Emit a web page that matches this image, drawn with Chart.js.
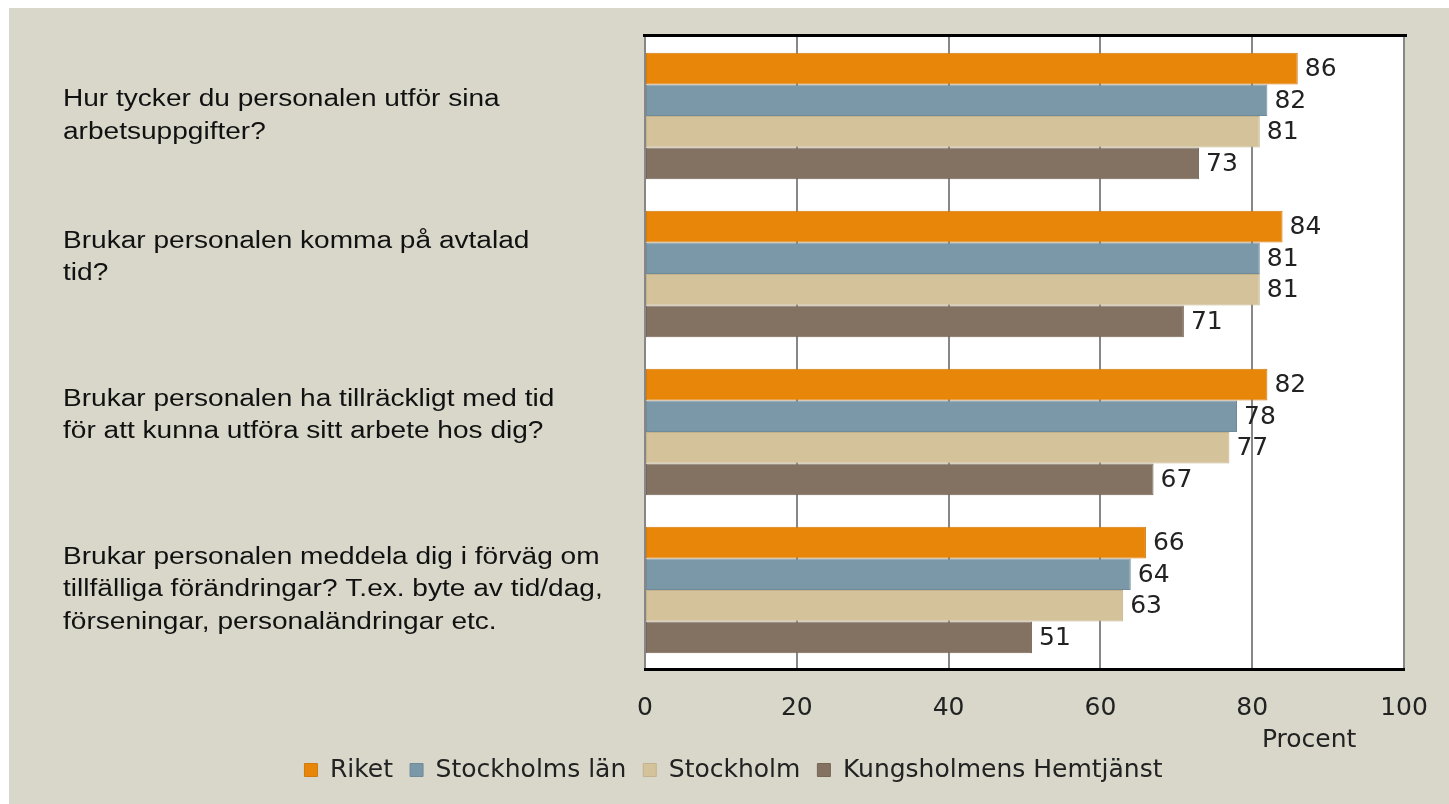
<!DOCTYPE html>
<html>
<head>
<meta charset="utf-8">
<script src="https://cdn.jsdelivr.net/npm/chart.js@4/dist/chart.umd.min.js"></script>
<style>
  html, body { margin: 0; padding: 0; background: #ffffff; overflow: hidden; width: 1449px; height: 804px; }
  #wrap { position: absolute; left: 0; top: 0; width: 1449px; height: 820px; }
</style>
</head>
<body>
<div id="wrap"><canvas id="c" width="1449" height="820"></canvas></div>
<script>
const categories = [
  ["Hur tycker du personalen utför sina", "arbetsuppgifter?"],
  ["Brukar personalen komma på avtalad", "tid?", ""],
  ["Brukar personalen ha tillräckligt med tid", "för att kunna utföra sitt arbete hos dig?", ""],
  ["Brukar personalen meddela dig i förväg om", "tillfälliga förändringar? T.ex. byte av tid/dag,", "förseningar, personaländringar etc."]
];
const seriesNames = ["Riket", "Stockholms län", "Stockholm", "Kungsholmens Hemtjänst"];
const riket = [86, 84, 82, 66];
const stockholmsLan = [82, 81, 78, 64];
const stockholm = [81, 81, 77, 63];
const kungsholmen = [73, 71, 67, 51];
const xTicks = [0, 20, 40, 60, 80, 100];
const axisTitle = "Procent";

const colors = ["#e8860a", "#7b98a8", "#d4c29b", "#837262"];
const borders = ["#d27a0c", "#6f8b9a", "#c4b28c", "#766757"];
const numFont = "'DejaVu Sans', sans-serif";
const labelStretch = 1.22;

const bgPlugin = {
  id: 'bg',
  beforeDraw(chart) {
    const ctx = chart.ctx, a = chart.chartArea;
    ctx.save();
    ctx.fillStyle = '#ffffff';
    ctx.fillRect(0, 0, chart.width, chart.height);
    ctx.fillStyle = '#d9d7ca';
    ctx.fillRect(9, 8, chart.width - 9, chart.height - 8);
    ctx.fillStyle = '#ffffff';
    ctx.fillRect(a.left, a.top, a.right - a.left, a.bottom - a.top);
    ctx.restore();
  },
  afterDatasetsDraw(chart) {
    const ctx = chart.ctx;
    ctx.save();
    ctx.font = "25px " + numFont;
    ctx.fillStyle = '#222222';
    ctx.textAlign = 'left';
    ctx.textBaseline = 'middle';
    chart.data.datasets.forEach((ds, i) => {
      const meta = chart.getDatasetMeta(i);
      meta.data.forEach((el, j) => {
        ctx.fillText(String(ds.data[j]), el.x + 7, el.y + 1);
      });
    });
    ctx.restore();
  },
  afterDraw(chart) {
    const ctx = chart.ctx, a = chart.chartArea;
    ctx.save();
    ctx.fillStyle = '#000000';
    ctx.fillRect(a.left - 2, a.top - 3, a.right - a.left + 5, 3);
    ctx.font = "25px " + numFont;
    ctx.fillStyle = '#222222';
    ctx.textAlign = 'center';
    ctx.textBaseline = 'middle';
    ctx.fillText(axisTitle, chart.scales.x.getPixelForValue(87.5), 740);
    ctx.restore();
  }
};

const sets = [riket, stockholmsLan, stockholm, kungsholmen];
new Chart(document.getElementById('c'), {
  type: 'bar',
  data: {
    labels: categories,
    datasets: sets.map((d, i) => ({
      label: seriesNames[i],
      data: d,
      backgroundColor: colors[i],
      borderColor: borders[i],
      borderWidth: 1,
      borderSkipped: false,
      barPercentage: 1.0,
      categoryPercentage: 0.8
    }))
  },
  options: {
    indexAxis: 'y',
    responsive: false,
    devicePixelRatio: 1,
    animation: false,
    layout: { padding: { left: 63, right: 45, top: 37, bottom: 27.5 } },
    scales: {
      x: {
        min: 0, max: 100,
        afterBuildTicks(scale) { scale.ticks = xTicks.map(v => ({ value: v })); },
        afterFit(scale) {
          scale.height = 71.5;
          scale.paddingLeft = 0; scale.paddingRight = 0;
          scale.paddingTop = 0; scale.paddingBottom = 0;
        },
        grid: { color: '#878787', lineWidth: 2, drawTicks: false },
        border: { display: true, color: '#000000', width: 3 },
        ticks: {
          padding: 24,
          color: '#222222',
          font: { family: numFont, size: 25, lineHeight: 1.2 },
          maxRotation: 0
        }
      },
      y: {
        afterFit(scale) {
          scale.width = 582;
          scale.paddingLeft = 0; scale.paddingRight = 0;
          scale.paddingTop = 0; scale.paddingBottom = 0;
          if (!scale._stretched) {
            const orig = Object.getPrototypeOf(scale).drawLabels;
            scale.drawLabels = function (area) {
              const ctx = this.ctx;
              ctx.save();
              ctx.translate(this.left, 0);
              ctx.scale(labelStretch, 1);
              ctx.translate(-this.left, 0);
              orig.call(this, area);
              ctx.restore();
            };
            scale._stretched = true;
          }
        },
        grid: { display: false },
        border: { display: false },
        ticks: {
          crossAlign: 'far',
          color: '#111111',
          font: { family: "'Liberation Sans', Arial, sans-serif", size: 23, lineHeight: 1.41 }
        }
      }
    },
    plugins: {
      legend: {
        position: 'bottom',
        labels: {
          boxWidth: 13,
          boxHeight: 13,
          padding: 17,
          color: '#222222',
          font: { family: numFont, size: 25 }
        }
      },
      tooltip: { enabled: false }
    }
  },
  plugins: [bgPlugin]
});
</script>
</body>
</html>
